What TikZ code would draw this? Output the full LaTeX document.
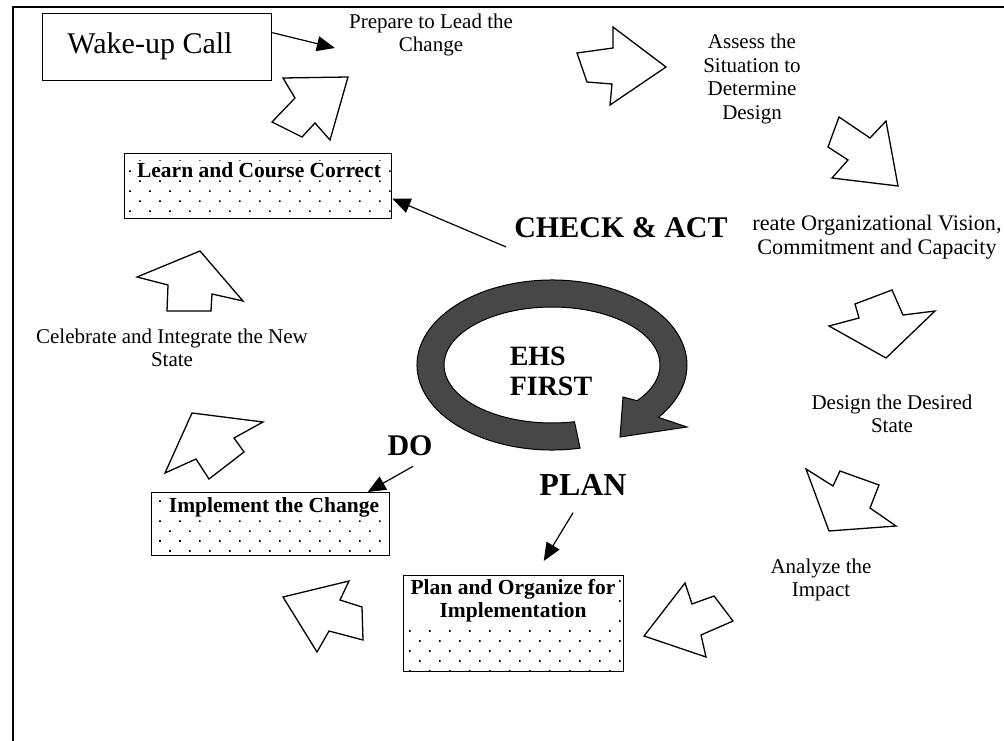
\documentclass[tikz,border=0pt]{standalone}
\usepackage{fontspec}
\setmainfont{Liberation Serif}
\usetikzlibrary{patterns.meta,arrows.meta,calc}
\begin{document}
\begin{tikzpicture}[x=1pt,y=-1pt,
  blk/.style={draw=black,fill=white,line width=1.3pt,line join=miter},
  lbl/.style={font=\rmfamily\fontsize{21}{23.5}\selectfont,align=center,inner sep=0pt},
  bigb/.style={font=\rmfamily\fontsize{30}{34}\selectfont\bfseries,inner sep=0pt},
  dotbox/.style={draw=black,line width=1.4pt,rectangle,inner sep=0pt,anchor=north west,
     pattern={Dots[distance=14.14pt,angle=45,radius=1.1pt]}},
  boxlbl/.style={font=\rmfamily\fontsize{21.5}{23}\selectfont\bfseries,fill=white,inner sep=1.5pt,align=center},
  ptr/.style={line width=1.2pt,-{Triangle[length=18pt,width=15pt]}},
  ringst/.style={draw=black,line width=1pt,fill=black!72}]
\useasboundingbox (0,0) rectangle (1004,741);
\draw[line width=1.5pt] (13,741) -- (13,7) -- (1004,7);

% boxes
\node[draw=black,line width=1.3pt,anchor=north west,minimum width=229pt,minimum height=67pt,inner sep=0pt] (wake) at (42,13) {};
\node[font=\rmfamily\fontsize{30}{34}\selectfont,inner sep=0pt] (waketxt) at (150,46) {Wake-up Call};

\node[dotbox,minimum width=267pt,minimum height=65pt] (learn) at (124,153) {};
\node[boxlbl] (learnlbl) at (259,170) {Learn and Course Correct};
\node[dotbox,minimum width=238pt,minimum height=63pt] (impl) at (151,492) {};
\node[boxlbl] (impllbl) at (274,507) {Implement the Change};
\node[dotbox,minimum width=220pt,minimum height=96pt] (planbox) at (403,575) {};
\node[boxlbl] (planlbl) at (513,601) {Plan and Organize for\\Implementation};

% labels
\node[lbl] (prep) at (431,35) {Prepare to Lead the\\Change};
\node[lbl] (assess) at (752,79) {Assess the\\Situation to\\Determine\\Design};
\node[lbl,font=\rmfamily\fontsize{22.2}{24}\selectfont] (create) at (877,237) {reate Organizational Vision,\\Commitment and Capacity};
\node[lbl] (design) at (892,414) {Design the Desired\\State};
\node[lbl] (analyze) at (821,580) {Analyze the\\Impact};
\node[lbl] (celeb) at (172,348) {Celebrate and Integrate the New\\State};

\node[bigb] (check) at (621,228) {CHECK \& ACT};
\node[bigb,font=\rmfamily\fontsize{28}{30}\selectfont\bfseries,align=left] (ehs) at (551,371) {EHS\\FIRST};
\node[bigb] (do) at (410,446) {DO};
\node[bigb,font=\rmfamily\fontsize{32}{36}\selectfont\bfseries] (plantxt) at (583,485) {PLAN};

% ring arrow
\draw[ringst] ($(552,365)+(78:135 and 85)$) arc[start angle=78,end angle=398,x radius=135,y radius=85]
  -- (687,427) -- (620,437) -- (623,397) -- ($(552,365)+(38:108 and 58)$)
  arc[start angle=398,end angle=78,x radius=108,y radius=58] -- cycle;

% connectors
\draw[ptr] ([yshift=14.5pt]wake.east) -- ([xshift=-14pt,yshift=-13pt]prep.west);
\draw[ptr] ($(check.west)+(-8,19)$) -- ([yshift=-12.5pt]learn.east);
\draw[ptr] ($(do.south)+(3,10)$) -- ($(impl.north)+(97,0)$);
\draw[ptr] ($(plantxt.south)+(-10,17)$) -- ($(planbox.north)+(30,-14)$);

% block arrows
\draw[blk] (283,78) -- (348,77) -- (330,140) -- (315,123) -- (302,137) -- (272,122) -- (295,98) -- cycle;
\draw[blk] (613,27) -- (666,67) -- (610,105) -- (612,84) -- (587,82) -- (577,53) -- (613,48) -- cycle;
\draw[blk] (839,117) -- (870,138) -- (886,121) -- (898,186) -- (832,178) -- (848,160) -- (828,147) -- cycle;
\draw[blk] (855,304) -- (892,290) -- (903,315) -- (935,311) -- (886,358) -- (829,326) -- (859,318) -- cycle;
\draw[blk] (806,469) -- (833,486) -- (840,471) -- (879,485) -- (870,508) -- (896,526) -- (829,531) -- cycle;
\draw[blk] (685,583) -- (692,604) -- (714,596) -- (733,621) -- (701,635) -- (706,657) -- (644,636) -- cycle;
\draw[blk] (283,597) -- (349,581) -- (340,600) -- (362,607) -- (363,640) -- (329,631) -- (317,652) -- cycle;
\draw[blk] (192,413) -- (263,422) -- (234,438) -- (244,452) -- (209,479) -- (196,459) -- (165,473) -- cycle;
\draw[blk] (200,251) -- (243,301) -- (212,294) -- (211,311) -- (167,311) -- (168,285) -- (137,277) -- cycle;
\end{tikzpicture}
\end{document}
